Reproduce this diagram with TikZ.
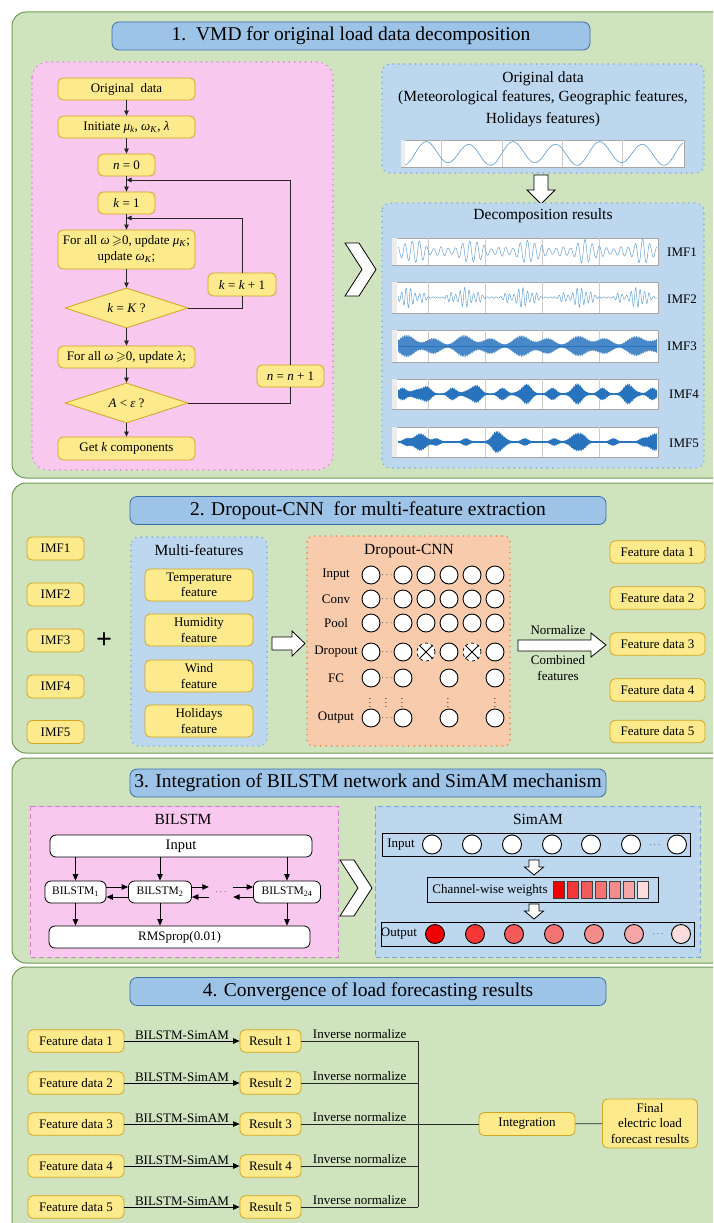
\documentclass[tikz,border=0pt]{standalone}
\usepackage{amssymb}
\usepackage{fontspec}
\setmainfont{Liberation Serif}
\usetikzlibrary{shapes.geometric,arrows.meta}
\definecolor{pg}{RGB}{207,227,191}
\definecolor{pgb}{RGB}{110,155,80}
\definecolor{tbf}{RGB}{157,195,230}
\definecolor{tbb}{RGB}{60,110,170}
\definecolor{yf}{RGB}{252,234,140}
\definecolor{yb}{RGB}{210,165,30}
\definecolor{pkf}{RGB}{248,200,238}
\definecolor{pkb}{RGB}{215,120,210}
\definecolor{lbf}{RGB}{189,215,238}
\definecolor{lbb}{RGB}{120,165,220}
\definecolor{orf}{RGB}{248,203,173}
\definecolor{orb}{RGB}{235,120,50}
\definecolor{sigA}{RGB}{91,155,213}
\definecolor{sigB}{RGB}{40,115,190}
\definecolor{ra}{RGB}{240,0,0}
\definecolor{rb}{RGB}{245,55,55}
\definecolor{rc}{RGB}{245,90,90}
\definecolor{rd}{RGB}{245,115,115}
\definecolor{re}{RGB}{245,140,140}
\definecolor{rf}{RGB}{245,165,165}
\definecolor{rg}{RGB}{252,220,220}
\newcommand\pframe[2]{%
  \draw[gray!70,fill=white,line width=0.5pt] (392,#1) rectangle (658,#2);
  \fill[gray!15] (392.3,#1+0.3) rectangle (397,#2-0.3);
  \foreach \gx in {428,485,542,599} \draw[gray!40,line width=0.4pt] (\gx,#1) -- (\gx,#2);
}
\begin{document}
\begin{tikzpicture}[x=1pt,y=-1pt,
  font=\fontsize{13pt}{15.5pt}\selectfont,
  panel/.style={draw=pgb,fill=pg,line width=1pt,rounded corners=14pt},
  ttl/.style={draw=tbb,fill=tbf,line width=0.8pt,rounded corners=7pt,inner sep=0pt,minimum height=28pt,font=\fontsize{19.5pt}{22pt}\selectfont},
  yn/.style={draw=yb,fill=yf,line width=0.8pt,rounded corners=5pt,inner sep=0pt,align=center},
  ydia/.style={diamond,aspect=3,draw=yb,fill=yf,line width=0.8pt,inner sep=0pt,minimum width=123pt,minimum height=40pt},
  arr/.style={-{Triangle[length=5pt,width=4.5pt]},line width=0.7pt,draw=black!85},
  arrb/.style={-{Triangle[length=6.5pt,width=5.5pt]},line width=0.8pt,draw=black},
  ln/.style={line width=0.7pt,draw=black!85},
  dotbox/.style={line width=1.6pt,dash pattern=on 0.01pt off 5.5pt,line cap=round},
  dashbox/.style={line width=0.8pt,dash pattern=on 5pt off 3pt},
  wn/.style={draw=black,fill=white,line width=0.8pt,rounded corners=6pt,inner sep=0pt},
  neuron/.style={circle,draw=black,fill=white,line width=0.9pt,minimum size=18pt,inner sep=0pt},
  blk/.style={draw=black,fill=white,line width=0.8pt,line join=miter},
  lab/.style={inner sep=0pt},
  big/.style={font=\fontsize{15.5pt}{18pt}\selectfont},
  declare function={
    e1(\t)=0.25+0.75*abs(sin(3.15*\t+20))^6+0.2*abs(sin(9*\t))^2;
    e2(\t)=0.06+0.94*abs(sin(3.15*\t+40))^12+0.45*abs(sin(6.4*\t+75))^10;
    e3(\t)=0.14+0.5*abs(sin(6.3*\t+10))^2+0.35*abs(sin(3.1*\t+30))^6;
    e4(\t)=0.06+0.45*abs(sin(7.2*\t+15))^4+0.35*abs(sin(3.4*\t))^8;
    e5(\t)=0.06+0.25*abs(sin(6.1*\t))^8+0.65*abs(sin(2.3*\t+25))^20;
    jt(\t)=0.65+0.35*abs(sin(100*mod(\t,18)+37*sin(13*\t)));
  }
]
\useasboundingbox (0,0) rectangle (713,1223);
\clip (0,0) rectangle (713,1223);
\fill[white] (0,0) rectangle (713,1223);

%================ Section 1
\draw[panel] (12,12) rectangle (730,478);
\node[ttl,minimum width=478pt] (t1) at (351,36) {1.\ \ VMD for original load data decomposition};
\draw[dotbox,draw=pkb,fill=pkf,rounded corners=16pt] (32,62) rectangle (333,470);

\node[yn,minimum width=137pt,minimum height=22pt] (orig) at (126.5,89) {Original\ \ data};
\node[yn,minimum width=137pt,minimum height=22pt] (init) at (126.5,127) {Initiate \textit{μ}\textsubscript{\textit{k}}, \textit{ω}\textsubscript{\textit{K}}, \textit{λ}};
\node[yn,minimum width=57pt,minimum height=22pt] (n0) at (126.5,165) {\textit{n} = 0};
\node[yn,minimum width=57pt,minimum height=22pt] (k1) at (126.5,203) {\textit{k} = 1};
\node[yn,minimum width=137pt,minimum height=39pt] (upd) at (126.5,249.5) {For all \textit{ω}\,$\geqslant$0, update \textit{μ}\textsubscript{\textit{K}};\\update \textit{ω}\textsubscript{\textit{K}};};
\node[ydia] (dK) at (126.5,308) {\textit{k} = \textit{K} ?};
\node[yn,minimum width=137pt,minimum height=22pt] (lam) at (126.5,357) {For all \textit{ω}\,$\geqslant$0, update \textit{λ};};
\node[ydia] (dA) at (126.5,403) {\textit{A} < \textit{ε} ?};
\node[yn,minimum width=137pt,minimum height=23pt] (getk) at (126.5,448.5) {Get \textit{k} components};
\node[yn,minimum width=68pt,minimum height=23pt] (kk1) at (242,284.5) {\textit{k} = \textit{k} + 1};
\node[yn,minimum width=67pt,minimum height=22pt] (nn1) at (290.5,376) {\textit{n} = \textit{n} + 1};

\foreach \a/\b in {orig/init,init/n0,n0/k1,k1/upd,upd/dK,dK/lam,lam/dA,dA/getk} \draw[arr] (\a) -- (\b);
\coordinate (jk) at (126.5,218);
\coordinate (jn) at (126.5,180);
\draw[ln] (dK.east) -| (kk1.south);
\draw[arr] (kk1.north) |- (jk);
\draw[ln] (dA.east) -| (nn1.south);
\draw[arr] (nn1.north) |- (jn);

\draw[blk] (345,243) -- (359,243) -- (376,269.5) -- (359,296) -- (345,296) -- (362,269.5) -- cycle;

\draw[dotbox,draw=lbb,fill=lbf,rounded corners=8pt] (382,64) rectangle (704,173);
\node[lab,big] (od1) at (543,79) {Original data};
\node[lab,big] (od2) at (543,98) {(Meteorological features, Geographic features,};
\node[lab,big] (od3) at (543,120) {Holidays features)};
\draw[gray!70,fill=white,line width=0.5pt] (401,140) rectangle (684,167);
\fill[gray!15] (401.3,140.3) rectangle (405,166.7);
\foreach \gx in {441,502,562,622} \draw[gray!40,line width=0.4pt] (\gx,140) -- (\gx,167);
\draw[sigA,line width=0.6pt] plot[domain=405:683,samples=300] (\x,{153.5-11.5*(sin(8.3*(\x-415))+0.18*sin(4.15*(\x-415)))/1.1});

\draw[blk] (534,175) -- (548,175) -- (548,190) -- (555,190) -- (541,204) -- (527,190) -- (534,190) -- cycle;

\draw[dotbox,draw=lbb,fill=lbf,rounded corners=8pt] (382,203) rectangle (704,468);
\node[lab,big] (dec) at (543,216) {Decomposition results};

\pframe{238}{265}
\draw[sigA,line width=0.45pt] plot[domain=398:657,samples=700] (\x,{251.5-10.5*e1(\x-392)*sin(50*mod(\x,36))});
\pframe{282}{313}
\draw[sigA,line width=0.45pt] plot[domain=398:657,samples=900] (\x,{297.5-10*e2(\x-392)*sin(80*mod(\x,9))});
\pframe{330}{362}
\fill[sigB!85] plot[domain=398:657,samples=400] (\x,{346-13*e3(\x-392)*jt(\x)}) -- plot[domain=657:398,samples=400] (\x,{346+13*e3(\x-392)*jt(\x+5)}) -- cycle;
\draw[sigB,line width=1pt] (398,346) -- (657,346);
\pframe{379}{409}
\fill[sigB] plot[domain=398:657,samples=400] (\x,{394-13*e4(\x-392)*jt(\x)}) -- plot[domain=657:398,samples=400] (\x,{394+13*e4(\x-392)*jt(\x+7)}) -- cycle;
\draw[sigB,line width=1pt] (398,394) -- (657,394);
\pframe{427}{457}
\fill[sigB] plot[domain=398:657,samples=400] (\x,{442-13*e5(\x-392)*jt(\x)}) -- plot[domain=657:398,samples=400] (\x,{442+13*e5(\x-392)*jt(\x+4)}) -- cycle;
\draw[sigB,line width=1.2pt] (398,442) -- (657,442);

\node[lab] (L1) at (682,252) {IMF1};
\node[lab] (L2) at (682,299) {IMF2};
\node[lab] (L3) at (682,346) {IMF3};
\node[lab] (L4) at (684,394) {IMF4};
\node[lab] (L5) at (684,443) {IMF5};

%================ Section 2
\draw[panel] (12,483) rectangle (730,753);
\node[ttl,minimum width=476pt] (t2) at (368,510.5) {2. Dropout-CNN\ \ for multi-feature extraction};
\foreach \i/\y in {1/548.5,2/594.5,3/640.5,4/686.5,5/732}
  \node[yn,minimum width=57pt,minimum height=23pt] (imf\i) at (55.5,\y) {IMF\i};
\node[lab] (plus) at (104,641) {\fontsize{28pt}{28pt}\selectfont\bfseries +};

\draw[dotbox,draw=lbb,fill=lbf,rounded corners=8pt] (131,537) rectangle (267,746);
\node[lab,big] (mft) at (199,550) {Multi-features};
\node[yn,minimum width=108pt,minimum height=32pt] (ftemp) at (199,585) {Temperature\\feature};
\node[yn,minimum width=108pt,minimum height=32pt] (fhum) at (199,630) {Humidity\\feature};
\node[yn,minimum width=108pt,minimum height=32pt] (fwind) at (199,676) {Wind\\feature};
\node[yn,minimum width=108pt,minimum height=32pt] (fhol) at (199,721) {Holidays\\feature};

\draw[blk] (272,637) -- (292,637) -- (292,631) -- (305,643.5) -- (292,656) -- (292,650) -- (272,650) -- cycle;

\draw[dotbox,draw=orb,fill=orf,rounded corners=6pt] (307,536) rectangle (510,746);
\node[lab,big] (cnnt) at (409,551) {Dropout-CNN};
\foreach \r/\y/\t in {a/575/Input,b/599/Conv,c/623/Pool,d/652/Dropout,e/678/FC,f/718/Output}{
  \node[lab] (rl\r) at (336,\y) {\t};
  \node[lab] (dt\r) at (387,\y) {\fontsize{9pt}{9pt}\selectfont$\cdots$};
}
\foreach \r/\y in {a/575,b/599,c/623}
  \foreach \c/\x in {1/371,2/403,3/426,4/449,5/472,6/495}
    \node[neuron] (n\r\c) at (\x,\y) {};
\foreach \c/\x in {1/371,2/403,4/449,6/495}{
  \node[neuron] (nd\c) at (\x,652) {};
  \node[neuron] (ne\c) at (\x,678) {};
  \node[neuron] (nf\c) at (\x,718) {};
}
\foreach \c/\x in {3/426,5/472}{
  \node[neuron,dashed,line width=0.7pt] (nd\c) at (\x,652) {};
  \draw[line width=0.8pt] (nd\c.45) -- (nd\c.225) (nd\c.135) -- (nd\c.315);
}
\foreach \x in {370,386,402,448,495} \node[lab] at (\x,700) {\fontsize{9pt}{9pt}\selectfont$\vdots$};

\draw[blk] (518,640) -- (591,640) -- (591,633) -- (606,645) -- (591,657) -- (591,651) -- (518,651) -- cycle;
\node[lab] (nrm) at (558,630) {Normalize};
\node[lab,align=center] (cmb) at (558,668) {Combined\\features};
\foreach \i/\y in {1/552,2/598,3/644,4/690,5/731.5}
  \node[yn,minimum width=95pt,minimum height=22.5pt] (fdr\i) at (657.5,\y) {Feature data \i};

%================ Section 3
\draw[panel] (12,758) rectangle (730,963);
\node[ttl,minimum width=476pt] (t3) at (368,783) {3. Integration of BILSTM network and SimAM mechanism};
\draw[dashbox,draw=pkb,fill=pkf] (30,806) rectangle (338,957);
\node[lab,big] (bt) at (183,819) {BILSTM};
\node[wn,font=\fontsize{14.5pt}{17pt}\selectfont,minimum width=262pt,minimum height=22pt] (inp) at (181,846) {Input};
\node[wn,minimum width=61pt,minimum height=22pt,font=\fontsize{11.5pt}{13pt}\selectfont] (b1) at (75.5,892) {BILSTM\textsubscript{1}};
\node[wn,minimum width=63pt,minimum height=22pt,font=\fontsize{11.5pt}{13pt}\selectfont] (b2) at (160,892) {BILSTM\textsubscript{2}};
\node[lab,minimum width=24pt] (dd) at (221,892) {\fontsize{9pt}{9pt}\selectfont$\cdots$};
\node[wn,minimum width=67pt,minimum height=22pt,font=\fontsize{11.5pt}{13pt}\selectfont] (b24) at (287,892) {BILSTM\textsubscript{24}};
\node[wn,minimum width=261pt,minimum height=22pt] (rms) at (179.5,937) {RMSprop(0.01)};
\foreach \b in {b1,b2,b24}{
  \draw[arrb] (\b.north |- inp.south) -- (\b.north);
  \draw[arrb] (\b.south) -- (\b.south |- rms.north);
}
\draw[arrb] ([yshift=5pt]b1.east) -- ([yshift=5pt]b2.west);
\draw[arrb] ([yshift=-5pt]b2.west) -- ([yshift=-5pt]b1.east);
\draw[arrb] ([yshift=5pt]b2.east) -- ([yshift=5pt]dd.west);
\draw[arrb] ([yshift=-5pt]dd.west) -- ([yshift=-5pt]b2.east);
\draw[arrb] ([yshift=5pt]dd.east) -- ([yshift=5pt]b24.west);
\draw[arrb] ([yshift=-5pt]b24.west) -- ([yshift=-5pt]dd.east);

\draw[blk] (340,860) -- (354,860) -- (372,888) -- (354,916) -- (340,916) -- (358,888) -- cycle;

\draw[dashbox,draw=lbb,fill=lbf] (375,806) rectangle (700,957);
\node[lab,big] (st) at (538,819) {SimAM};
\node[draw,line width=0.8pt,minimum width=308pt,minimum height=23pt,inner sep=0pt] (sin) at (536,844.5) {};
\node[lab] (sinl) at (401,845) {Input};
\foreach \x in {432,472,512,552,591,631,677} \node[neuron,minimum size=19pt] at (\x,844.5) {};
\node[lab] (sdi) at (655,845) {\fontsize{9pt}{9pt}\selectfont$\cdots$};
\draw[blk] (529,860) -- (539,860) -- (539,867) -- (543.5,867) -- (534,875) -- (524.5,867) -- (529,867) -- cycle;
\node[draw,line width=0.8pt,minimum width=231pt,minimum height=25pt,inner sep=0pt] (cw) at (542.5,889.5) {};
\node[lab] (cwl) at (490,890) {Channel-wise weights};
\foreach \i/\c in {0/ra,1/rb,2/rc,3/rd,4/re,5/rf,6/rg}
  \node[draw=black!75,fill=\c,line width=0.6pt,minimum width=11.5pt,minimum height=17pt,inner sep=0pt] (sq\i) at ({559+\i*14},889.5) {};
\draw[blk] (529,904) -- (539,904) -- (539,911) -- (543.5,911) -- (534,919) -- (524.5,911) -- (529,911) -- cycle;
\node[draw,line width=0.8pt,minimum width=313pt,minimum height=24pt,inner sep=0pt] (sout) at (537.5,934) {};
\node[lab] (soutl) at (399,934) {Output};
\foreach \x/\c in {435/ra,475/rb,514/rc,554/rd,594/re,634/rf,681/rg} \node[neuron,minimum size=19pt,fill=\c] at (\x,934) {};
\node[lab] (sdo) at (658,934) {\fontsize{9pt}{9pt}\selectfont$\cdots$};

%================ Section 4
\draw[panel] (12,967) rectangle (730,1240);
\node[ttl,minimum width=476pt] (t4) at (368,991.5) {4. Convergence of load forecasting results};
\foreach \i/\y in {1/1041,2/1083,3/1124,4/1166,5/1207}{
  \node[yn,minimum width=96pt,minimum height=22.5pt] (fd\i) at (76,\y) {Feature data \i};
  \node[yn,minimum width=61pt,minimum height=22.5pt] (rs\i) at (270.5,\y) {Result \i};
  \draw[arrb] (fd\i) -- node[above=1pt,inner sep=0pt] {BILSTM-SimAM} (rs\i);
  \coordinate (jj\i) at (418,\y);
  \draw[ln] (rs\i) -- node[above=2pt,inner sep=0pt] {Inverse normalize} (jj\i);
}
\draw[ln] (jj1) -- (jj5);
\node[yn,minimum width=96pt,minimum height=23pt] (integ) at (527,1124) {Integration};
\node[yn,minimum width=95pt,minimum height=49pt] (fin) at (650,1123.5) {Final\\electric load\\forecast results};
\draw[ln] (jj3) -- (integ);
\draw[ln] (integ) -- (fin);
\end{tikzpicture}
\end{document}
